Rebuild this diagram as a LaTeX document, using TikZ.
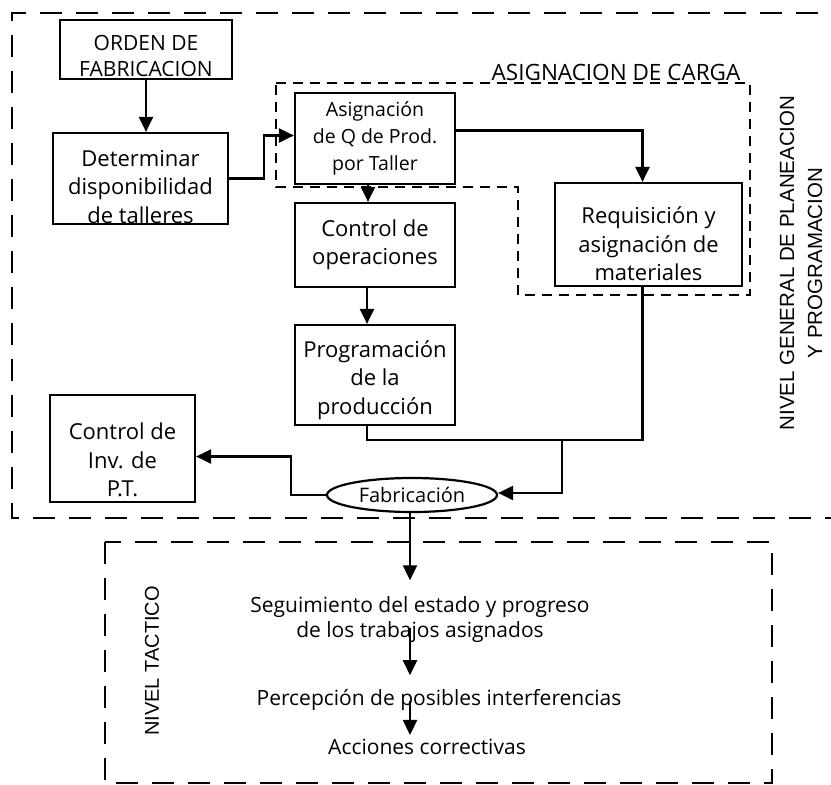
\documentclass[tikz,border=0pt]{standalone}
\usepackage{fontspec}
\setmainfont{Open Sans}
\newfontfamily\labelfont{Liberation Sans}
\usetikzlibrary{arrows.meta,shapes.geometric,calc}
% invisible strut that lowers the text block inside a box
\newcommand\lowerby[1]{\rule{0pt}{#1}}

\begin{document}
\begin{tikzpicture}[x=1pt,y=-1pt,
  box/.style={draw,line width=2.2pt,align=center,inner sep=0pt,
    font=\fontsize{22}{28.5}\selectfont},
  smallbox/.style={box,font=\fontsize{19.5}{27}\selectfont},
  arr/.style={line width=2.2pt,-{Triangle[length=15pt,width=14pt]}},
  link/.style={line width=2.2pt},
  frame/.style={line width=2.4pt,dash pattern=on 22pt off 14pt},
  zone/.style={line width=2.2pt,dash pattern=on 10pt off 7pt},
  lvl/.style={font=\labelfont\fontsize{20.5}{28}\selectfont,rotate=90,align=center,inner sep=0pt},
  steptext/.style={align=center,inner sep=0pt,font=\fontsize{21}{25}\selectfont}
]
\useasboundingbox (0,0) rectangle (831,785);

% planning level frame (open on the right)
\draw[frame] (818,13) -- (12,13) -- (12,518) -- (831,518);
% tactical level frame
\draw[frame] (105,542) rectangle (772,783);

% load assignment zone
\draw[zone] (276,83) -- (750,83) -- (750,295) -- (518,295) -- (518,187) -- (276,187) -- cycle;
\node[font=\fontsize{22.5}{24}\selectfont,anchor=south,inner sep=0pt] (carga) at (616,81) {ASIGNACION DE CARGA};

% process boxes
\node[box,font=\fontsize{21}{26}\selectfont,minimum width=172pt,minimum height=59pt] (orden) at (146,49.5) {\lowerby{28pt}ORDEN DE\\FABRICACION};
\node[box,minimum width=175pt,minimum height=91pt] (determ) at (140.5,178.5) {\lowerby{33pt}Determinar\\disponibilidad\\de talleres};
\node[smallbox,minimum width=160pt,minimum height=91pt] (asig) at (375,138.5) {Asignación\\de Q de Prod.\\por Taller};
\node[box,minimum width=160pt,minimum height=84pt] (control) at (375,245) {Control de\\operaciones};
\node[box,minimum width=160pt,minimum height=100pt] (prog) at (375,375) {\lowerby{27pt}Programación\\de la\\producción};
\node[box,minimum width=187pt,minimum height=103pt] (req) at (648.5,234.5) {\lowerby{36pt}Requisición y\\asignación de\\materiales};
\node[box,minimum width=145pt,minimum height=107pt] (inv) at (122.5,448.5) {\lowerby{40pt}Control de\\Inv. de\\P.T.};
\node[ellipse,draw,line width=2.2pt,minimum width=170pt,minimum height=34pt,inner sep=0pt,
  font=\fontsize{20}{22}\selectfont] (fab) at (412,495) {Fabricación};

% level labels
\node[lvl] (general) at (801,263) {NIVEL GENERAL DE PLANEACION\\Y PROGRAMACION};
\node[lvl,font=\labelfont\fontsize{20}{22}\selectfont] (tactico) at (152,661) {NIVEL TACTICO};

% tactical steps
\node[steptext] (s1) at (420,619.5) {Seguimiento del estado y progreso\\de los trabajos asignados};
\node[steptext] (s2) at (439,700) {Percepción de posibles interferencias};
\node[steptext] (s3) at (427,747) {Acciones correctivas};

% connectors
\draw[arr] (orden.south) -- (orden.south |- determ.north);
\draw[arr] (determ.east) -- ++(35,0) |- ([yshift=3pt]asig.west);
\draw[arr] ([xshift=-7pt]asig.south) -- ([xshift=-7pt]asig.south |- control.north);
\draw[arr] ([yshift=8pt]asig.east) -| ([xshift=-6pt]req.north);
\draw[arr] ([xshift=-8pt]control.south) -- ([xshift=-8pt]control.south |- prog.north);

\coordinate (m) at (562,440);
\draw[link] ([xshift=-8pt]prog.south) |- ([xshift=-6pt]req.south |- m) -- ([xshift=-6pt]req.south);
\draw[arr] (m) |- ([yshift=2pt]fab.east);
\draw[arr] (fab.west) -- ++(-35,0) |- ([yshift=-8pt]inv.east);

\draw[arr,shorten >=16pt] ([xshift=-2pt]fab.south) -- ([xshift=-2pt]fab.south |- s1.north);
\draw[arr,shorten <=-15pt,shorten >=14pt] ([xshift=-2pt]fab.south |- s1.south) -- ([xshift=-2pt]fab.south |- s2.north);
\draw[arr,shorten <=-10pt,shorten >=4pt] ([xshift=-2pt]fab.south |- s2.south) -- ([xshift=-2pt]fab.south |- s3.north);
\end{tikzpicture}
\end{document}
